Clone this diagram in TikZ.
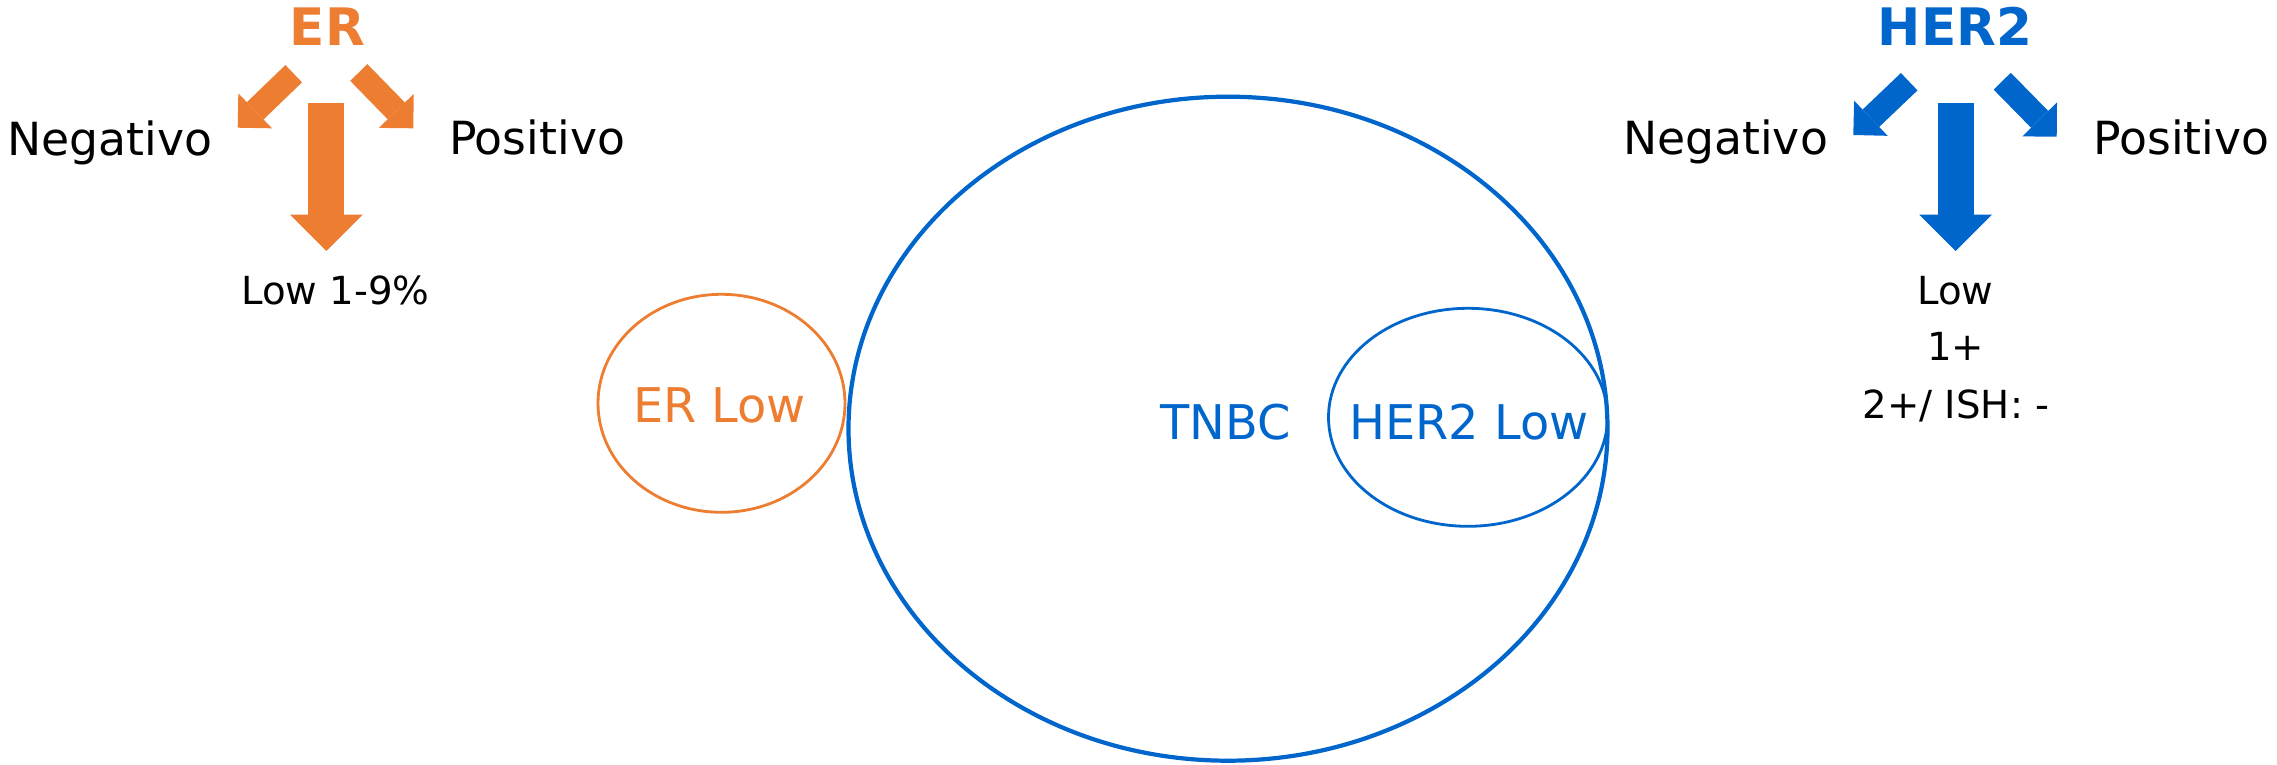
\documentclass[tikz,border=0pt]{standalone}
\usepackage{fontspec}
\setmainfont{DejaVu Sans}
\usetikzlibrary{arrows.meta}
\definecolor{erorange}{RGB}{237,125,49}
\definecolor{herblue}{RGB}{0,102,204}

\begin{document}
\begin{tikzpicture}[txt/.style={anchor=base,inner sep=0pt,font=\fontsize{13}{15}\selectfont},
		head/.style={txt,font=\fontsize{14.7}{17}\selectfont\bfseries},
		sub/.style={txt,font=\fontsize{11}{13}\selectfont},
		inlbl/.style={txt,font=\fontsize{13.6}{16}\selectfont},
		bigarr/.style={line width=3.6mm,-{Triangle[width=7.3mm,length=3.65mm,line width=0pt]}},
		smallarr/.style={line width=2.4mm,-{Triangle[width=4.86mm,length=2.43mm,line width=0pt]}}]
			\useasboundingbox (0,0) rectangle (22.77,-7.65);

			% ER side
			\node[head,erorange] (ER) at (3.275,-0.45) {ER};
			\node[txt] (erNeg) at (1.10,-1.55) {Negativo};
			\node[txt] (erPos) at (5.37,-1.54) {Positivo};
			\node[sub] (erLow) at (3.355,-3.04) {Low 1-9\%};
			\coordinate (erNegT) at (2.937,-0.737);
			\coordinate (erNegH) at (2.377,-1.277);
			\coordinate (erPosT) at (3.588,-0.725);
			\coordinate (erPosH) at (4.133,-1.283);
			\coordinate (erLowT) at (3.263,-1.033);
			\coordinate (erLowH) at (3.263,-2.51);

			\path[erorange] (erNegT) edge[smallarr] (erNegH)
						 (erPosT) edge[smallarr] (erPosH)
						 (erLowT) edge[bigarr] (erLowH);

			% HER2 side
			\node[head,herblue] (HER) at (19.55,-0.45) {HER2};
			\node[txt] (herNeg) at (17.255,-1.54) {Negativo};
			\node[txt] (herPos) at (21.815,-1.54) {Positivo};
			\node[sub] (herLow) at (19.555,-3.04) {Low};
			\node[sub] (herOne) at (19.555,-3.607) {1+};
			\node[sub] (herTwo) at (19.56,-4.183) {2+/ ISH: -};
			\coordinate (herNegT) at (19.092,-0.817);
			\coordinate (herNegH) at (18.533,-1.35);
			\coordinate (herPosT) at (20.022,-0.812);
			\coordinate (herPosH) at (20.567,-1.367);
			\coordinate (herLowT) at (19.555,-1.033);
			\coordinate (herLowH) at (19.555,-2.51);

			\path[herblue] (herNegT) edge[smallarr] (herNegH)
						 (herPosT) edge[smallarr] (herPosH)
						 (herLowT) edge[bigarr] (herLowH);

			% ellipses
			\draw[herblue,line width=1.2pt] (12.28,-4.287) ellipse [x radius=3.795,y radius=3.32];
			\draw[erorange,line width=.8pt] (7.215,-4.033) ellipse [x radius=1.235,y radius=1.09];
			\draw[herblue,line width=.8pt] (14.68,-4.173) ellipse [x radius=1.395,y radius=1.09];
			\node[inlbl,erorange] (erLowC) at (7.195,-4.22) {ER Low};
			\node[inlbl,herblue] (tnbc) at (12.255,-4.39) {TNBC};
			\node[inlbl,herblue] (herLowC) at (14.69,-4.39) {HER2 Low};
		\end{tikzpicture}
\end{document}
